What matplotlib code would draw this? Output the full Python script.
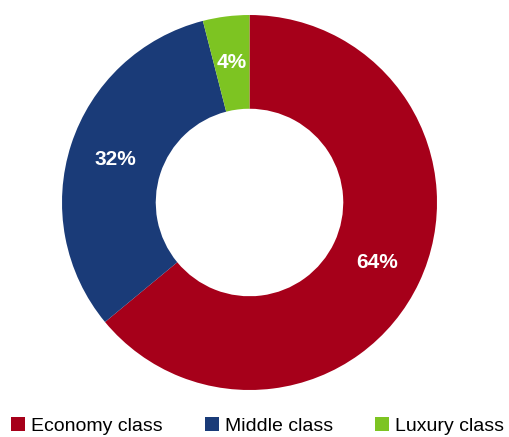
import matplotlib.pyplot as plt
from matplotlib.patches import Patch

# ================= DATA =================
LABELS = ['Economy class', 'Middle class', 'Luxury class']
SHARES = [64, 32, 4]
COLORS = ['#A6001A', '#1A3B78', '#7DC422']

plt.rcParams['font.family'] = ['Liberation Sans', 'DejaVu Sans']

fig = plt.figure(figsize=(5.10, 4.37), dpi=100)
# donut centre ~ (249.5, 202.5) px, outer radius ~187.5 px
ax = fig.add_axes([62 / 510, 47 / 437, 375 / 510, 375 / 437])

wedges, texts, autotexts = ax.pie(
    SHARES, colors=COLORS, startangle=90, counterclock=False,
    autopct='%1.0f%%', pctdistance=0.75, radius=1.0,
    wedgeprops=dict(width=0.5, edgecolor='none'),
    textprops=dict(color='white', fontsize=15, fontweight='bold'))
ax.set_xlim(-1, 1)
ax.set_ylim(-1, 1)
ax.set_aspect('equal')
ax.axis('off')

handles = [Patch(facecolor=c, edgecolor='none') for c in COLORS]
fig.legend(handles, LABELS, loc='lower center', bbox_to_anchor=(0.505, -0.035),
           ncol=3, frameon=False, fontsize=14, handlelength=0.7,
           handleheight=0.75, handletextpad=0.3, columnspacing=2.2)

fig.savefig('out.png', dpi=100)
